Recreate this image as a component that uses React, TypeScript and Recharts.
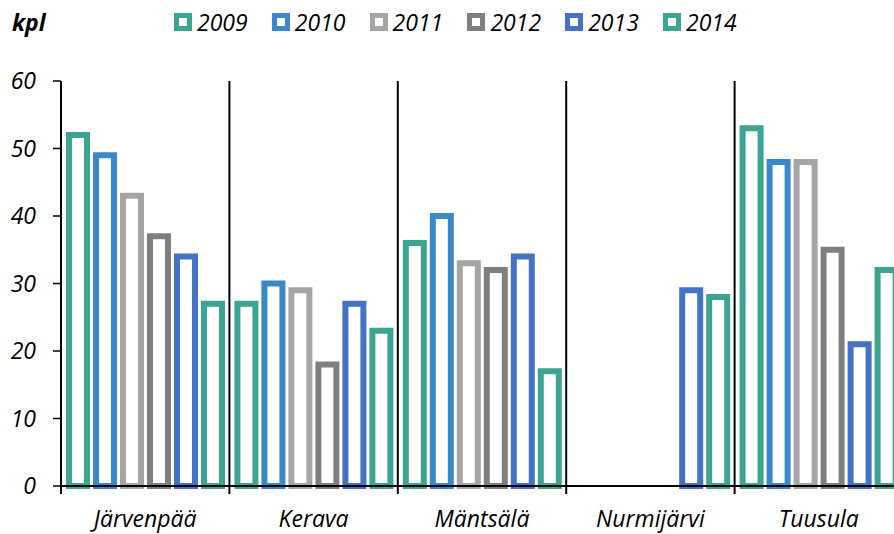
import React from 'react';
import { BarChart, Bar, XAxis, YAxis, CartesianGrid, Legend } from 'recharts';

const categories = ['Järvenpää', 'Kerava', 'Mäntsälä', 'Nurmijärvi', 'Tuusula'];
const years = ['2009', '2010', '2011', '2012', '2013', '2014'];
const v2009 = [52, 27, 36, null, 53];
const v2010 = [49, 30, 40, null, 48];
const v2011 = [43, 29, 33, null, 48];
const v2012 = [37, 18, 32, null, 35];
const v2013 = [34, 27, 34, 29, 21];
const v2014 = [27, 23, 17, 28, 32];
const seriesValues = [v2009, v2010, v2011, v2012, v2013, v2014];
const yTicks = [0, 10, 20, 30, 40, 50, 60];
const colors = ['#3BA592', '#3A88C8', '#A5A5A5', '#7F7F7F', '#4472C4', '#3BA592'];
const unitLabel = 'kpl';

const data = categories.map((name, i) => {
  const row: any = { name };
  years.forEach((y, j) => {
    row[y] = seriesValues[j][i];
  });
  return row;
});

const FONT = "'Open Sans', sans-serif";
const FS = 23;

const renderLegend = (props: any) => {
  const payload = props.payload || [];
  return (
    <div style={{ display: 'flex', fontFamily: FONT }}>
      {payload.map((entry: any, i: number) => (
        <div key={i} style={{ width: 97.8, display: 'flex', alignItems: 'center' }}>
          <div
            style={{
              width: 18,
              height: 18,
              boxSizing: 'border-box',
              border: `5px solid ${colors[i]}`,
              background: '#fff',
              marginRight: 5,
            }}
          />
          <span style={{ fontStyle: 'italic', fontSize: FS, color: '#000', lineHeight: '26px' }}>
            {entry.value}
          </span>
        </div>
      ))}
    </div>
  );
};

// category boundaries: start of each category band of the x axis
const boundaryGenerator = (props: any) => {
  const xAxis = props && props.xAxis;
  const scale = xAxis && xAxis.scale;
  try {
    if (typeof scale === 'function') {
      const r = categories.map((c) => scale(c));
      if (r.every((v) => typeof v === 'number' && isFinite(v))) return r;
    }
    if (scale && typeof scale.map === 'function') {
      const r = categories.map((c) => scale.map(c));
      if (r.every((v: any) => typeof v === 'number' && isFinite(v))) return r;
    }
  } catch (e) {
    // fall through
  }
  const off = props.offset;
  return categories.map((_, i) => off.left + (off.width * i) / categories.length);
};

// grid line that continues below the axis as a tick mark
const SeparatorLine = (props: any) => {
  const { x1, x2, y1, y2 } = props;
  return <line x1={x1} x2={x2} y1={y1} y2={y2 + 8} stroke="#000" strokeWidth={2} />;
};

export default function App() {
  return (
    <div style={{ position: 'fixed', left: 0, top: 0, width: 894, height: 534, overflow: 'hidden', background: '#fff' }}>
      <div
        style={{
          position: 'absolute',
          left: 12,
          top: 7,
          fontFamily: FONT,
          fontWeight: 700,
          fontStyle: 'italic',
          fontSize: FS,
          lineHeight: '30px',
          color: '#000',
        }}
      >
        {unitLabel}
      </div>
      <BarChart
        width={920}
        height={534}
        data={data}
        margin={{ top: 81, right: 17, bottom: 0, left: 0 }}
        barGap={9}
        barSize={18}
        barCategoryGap={0}
      >
        <CartesianGrid
          vertical={SeparatorLine}
          horizontal={false}
          verticalCoordinatesGenerator={boundaryGenerator}
          stroke="#000"
          strokeWidth={2}
        />
        {years.map((y, i) => (
          <Bar
            key={y}
            dataKey={y}
            fill="#fff"
            stroke={colors[i]}
            strokeWidth={6}
            isAnimationActive={false}
          />
        ))}
        <XAxis
          dataKey="name"
          height={48}
          tickLine={false}
          axisLine={{ stroke: '#000', strokeWidth: 2 }}
          tickSize={0}
          tickMargin={25}
          tick={{ fontFamily: FONT, fontStyle: 'italic', fontSize: FS, fill: '#000' }}
          interval={0}
        />
        <YAxis
          width={61}
          domain={[0, 60]}
          ticks={yTicks}
          tickSize={8}
          tickMargin={17}
          axisLine={{ stroke: '#000', strokeWidth: 2 }}
          tickLine={{ stroke: '#000', strokeWidth: 1.5 }}
          tick={{ fontFamily: FONT, fontStyle: 'italic', fontSize: FS, fill: '#000' }}
        />
        <Legend
          layout="horizontal"
          verticalAlign="middle"
          align="center"
          wrapperStyle={{ top: 9, left: 174, width: 'auto' }}
          content={renderLegend}
        />
      </BarChart>
    </div>
  );
}
